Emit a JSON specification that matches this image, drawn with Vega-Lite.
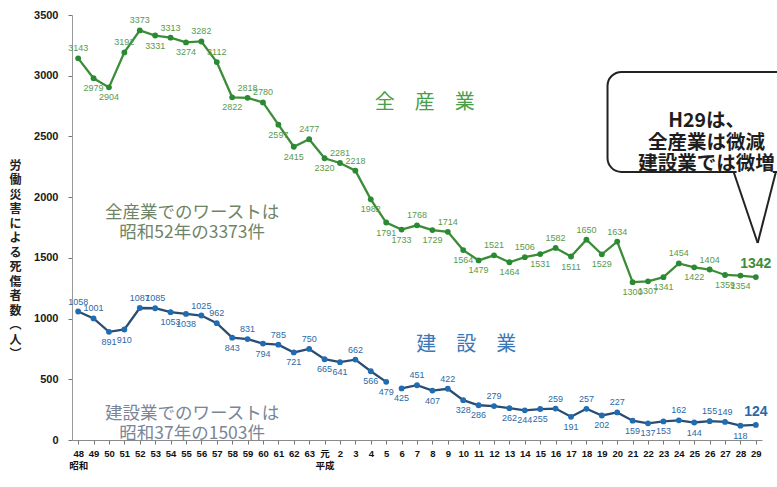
{
  "$schema": "https://vega.github.io/schema/vega-lite/v6.json",
  "width": 690,
  "height": 425,
  "autosize": {"type": "none"},
  "padding": {"left": 72, "top": 15, "right": 15, "bottom": 47},
  "background": "#ffffff",
  "config": {
    "view": {"stroke": null},
    "axisX": {"tickCount": 45, "tickMinStep": 1, "labelOverlap": false},
    "axisY": {"format": "d"}
  },
  "resolve": {"scale": {"color": "independent"}},
  "datasets": {
    "rows": [
      {"year": 1973, "industry": "全産業", "segment": "全", "deaths": 3143},
      {"year": 1974, "industry": "全産業", "segment": "全", "deaths": 2979},
      {"year": 1975, "industry": "全産業", "segment": "全", "deaths": 2904},
      {"year": 1976, "industry": "全産業", "segment": "全", "deaths": 3192},
      {"year": 1977, "industry": "全産業", "segment": "全", "deaths": 3373},
      {"year": 1978, "industry": "全産業", "segment": "全", "deaths": 3331},
      {"year": 1979, "industry": "全産業", "segment": "全", "deaths": 3313},
      {"year": 1980, "industry": "全産業", "segment": "全", "deaths": 3274},
      {"year": 1981, "industry": "全産業", "segment": "全", "deaths": 3282},
      {"year": 1982, "industry": "全産業", "segment": "全", "deaths": 3112},
      {"year": 1983, "industry": "全産業", "segment": "全", "deaths": 2822},
      {"year": 1984, "industry": "全産業", "segment": "全", "deaths": 2818},
      {"year": 1985, "industry": "全産業", "segment": "全", "deaths": 2780},
      {"year": 1986, "industry": "全産業", "segment": "全", "deaths": 2597},
      {"year": 1987, "industry": "全産業", "segment": "全", "deaths": 2415},
      {"year": 1988, "industry": "全産業", "segment": "全", "deaths": 2477},
      {"year": 1989, "industry": "全産業", "segment": "全", "deaths": 2320},
      {"year": 1990, "industry": "全産業", "segment": "全", "deaths": 2281},
      {"year": 1991, "industry": "全産業", "segment": "全", "deaths": 2218},
      {"year": 1992, "industry": "全産業", "segment": "全", "deaths": 1982},
      {"year": 1993, "industry": "全産業", "segment": "全", "deaths": 1791},
      {"year": 1994, "industry": "全産業", "segment": "全", "deaths": 1733},
      {"year": 1995, "industry": "全産業", "segment": "全", "deaths": 1768},
      {"year": 1996, "industry": "全産業", "segment": "全", "deaths": 1729},
      {"year": 1997, "industry": "全産業", "segment": "全", "deaths": 1714},
      {"year": 1998, "industry": "全産業", "segment": "全", "deaths": 1564},
      {"year": 1999, "industry": "全産業", "segment": "全", "deaths": 1479},
      {"year": 2000, "industry": "全産業", "segment": "全", "deaths": 1521},
      {"year": 2001, "industry": "全産業", "segment": "全", "deaths": 1464},
      {"year": 2002, "industry": "全産業", "segment": "全", "deaths": 1506},
      {"year": 2003, "industry": "全産業", "segment": "全", "deaths": 1531},
      {"year": 2004, "industry": "全産業", "segment": "全", "deaths": 1582},
      {"year": 2005, "industry": "全産業", "segment": "全", "deaths": 1511},
      {"year": 2006, "industry": "全産業", "segment": "全", "deaths": 1650},
      {"year": 2007, "industry": "全産業", "segment": "全", "deaths": 1529},
      {"year": 2008, "industry": "全産業", "segment": "全", "deaths": 1634},
      {"year": 2009, "industry": "全産業", "segment": "全", "deaths": 1300},
      {"year": 2010, "industry": "全産業", "segment": "全", "deaths": 1307},
      {"year": 2011, "industry": "全産業", "segment": "全", "deaths": 1341},
      {"year": 2012, "industry": "全産業", "segment": "全", "deaths": 1454},
      {"year": 2013, "industry": "全産業", "segment": "全", "deaths": 1422},
      {"year": 2014, "industry": "全産業", "segment": "全", "deaths": 1404},
      {"year": 2015, "industry": "全産業", "segment": "全", "deaths": 1359},
      {"year": 2016, "industry": "全産業", "segment": "全", "deaths": 1354},
      {"year": 2017, "industry": "全産業", "segment": "全", "deaths": 1342},
      {"year": 1973, "industry": "建設業", "segment": "建S", "deaths": 1058},
      {"year": 1974, "industry": "建設業", "segment": "建S", "deaths": 1001},
      {"year": 1975, "industry": "建設業", "segment": "建S", "deaths": 891},
      {"year": 1976, "industry": "建設業", "segment": "建S", "deaths": 910},
      {"year": 1977, "industry": "建設業", "segment": "建S", "deaths": 1087},
      {"year": 1978, "industry": "建設業", "segment": "建S", "deaths": 1085},
      {"year": 1979, "industry": "建設業", "segment": "建S", "deaths": 1053},
      {"year": 1980, "industry": "建設業", "segment": "建S", "deaths": 1038},
      {"year": 1981, "industry": "建設業", "segment": "建S", "deaths": 1025},
      {"year": 1982, "industry": "建設業", "segment": "建S", "deaths": 962},
      {"year": 1983, "industry": "建設業", "segment": "建S", "deaths": 843},
      {"year": 1984, "industry": "建設業", "segment": "建S", "deaths": 831},
      {"year": 1985, "industry": "建設業", "segment": "建S", "deaths": 794},
      {"year": 1986, "industry": "建設業", "segment": "建S", "deaths": 785},
      {"year": 1987, "industry": "建設業", "segment": "建S", "deaths": 721},
      {"year": 1988, "industry": "建設業", "segment": "建S", "deaths": 750},
      {"year": 1989, "industry": "建設業", "segment": "建S", "deaths": 665},
      {"year": 1990, "industry": "建設業", "segment": "建S", "deaths": 641},
      {"year": 1991, "industry": "建設業", "segment": "建S", "deaths": 662},
      {"year": 1992, "industry": "建設業", "segment": "建S", "deaths": 566},
      {"year": 1993, "industry": "建設業", "segment": "建S", "deaths": 479},
      {"year": 1994, "industry": "建設業", "segment": "建H", "deaths": 425},
      {"year": 1995, "industry": "建設業", "segment": "建H", "deaths": 451},
      {"year": 1996, "industry": "建設業", "segment": "建H", "deaths": 407},
      {"year": 1997, "industry": "建設業", "segment": "建H", "deaths": 422},
      {"year": 1998, "industry": "建設業", "segment": "建H", "deaths": 328},
      {"year": 1999, "industry": "建設業", "segment": "建H", "deaths": 286},
      {"year": 2000, "industry": "建設業", "segment": "建H", "deaths": 279},
      {"year": 2001, "industry": "建設業", "segment": "建H", "deaths": 262},
      {"year": 2002, "industry": "建設業", "segment": "建H", "deaths": 244},
      {"year": 2003, "industry": "建設業", "segment": "建H", "deaths": 255},
      {"year": 2004, "industry": "建設業", "segment": "建H", "deaths": 259},
      {"year": 2005, "industry": "建設業", "segment": "建H", "deaths": 191},
      {"year": 2006, "industry": "建設業", "segment": "建H", "deaths": 257},
      {"year": 2007, "industry": "建設業", "segment": "建H", "deaths": 202},
      {"year": 2008, "industry": "建設業", "segment": "建H", "deaths": 227},
      {"year": 2009, "industry": "建設業", "segment": "建H", "deaths": 159},
      {"year": 2010, "industry": "建設業", "segment": "建H", "deaths": 137},
      {"year": 2011, "industry": "建設業", "segment": "建H", "deaths": 153},
      {"year": 2012, "industry": "建設業", "segment": "建H", "deaths": 162},
      {"year": 2013, "industry": "建設業", "segment": "建H", "deaths": 144},
      {"year": 2014, "industry": "建設業", "segment": "建H", "deaths": 155},
      {"year": 2015, "industry": "建設業", "segment": "建H", "deaths": 149},
      {"year": 2016, "industry": "建設業", "segment": "建H", "deaths": 118},
      {"year": 2017, "industry": "建設業", "segment": "建H", "deaths": 124}
    ]
  },
  "layer": [
    {
      "data": {"name": "rows"},
      "mark": {"type": "line", "strokeWidth": 2.3},
      "encoding": {
        "x": {
          "field": "year", "type": "quantitative",
          "scale": {"domain": [1972.6, 2017.4], "nice": false, "zero": false},
          "axis": {
            "title": null,
            "values": [1973,1974,1975,1976,1977,1978,1979,1980,1981,1982,1983,1984,1985,1986,1987,1988,1989,1990,1991,1992,1993,1994,1995,1996,1997,1998,1999,2000,2001,2002,2003,2004,2005,2006,2007,2008,2009,2010,2011,2012,2013,2014,2015,2016,2017],
            "tickCount": 45,
            "labelExpr": "datum.value == 1973 ? ['48', '昭和'] : datum.value == 1989 ? ['元', '平成'] : datum.value < 1989 ? '' + (datum.value - 1925) : '' + (datum.value - 1988)",
            "labelFont": "Liberation Sans, Noto Sans CJK JP",
            "labelFontWeight": "bold",
            "labelFontSize": 9.5,
            "labelColor": "#111111",
            "labelAngle": 0,
            "labelOverlap": false,
            "labelFlush": false,
            "labelBound": false,
            "labelPadding": 4,
            "labelLineHeight": 12,
            "labelBaseline": "top",
            "tickSize": 4,
            "tickColor": "#777777",
            "domainColor": "#8a8a8a",
            "grid": false
          }
        },
        "y": {
          "field": "deaths", "type": "quantitative",
          "scale": {"domain": [0, 3500], "nice": false},
          "axis": {
            "values": [0, 500, 1000, 1500, 2000, 2500, 3000, 3500],
            "format": "d",
            "title": ["労", "働", "災", "害", "に", "よ", "る", "死", "傷", "者", "数", "︵", "人", "︶"],
            "titleFont": "Noto Sans CJK JP",
            "titleFontSize": 12,
            "titleFontWeight": "bold",
            "titleColor": "#222222",
            "titleAngle": 0,
            "titleAlign": "center",
            "titleBaseline": "middle",
            "titleLineHeight": 14.5,
            "titleX": -57,
            "titleY": 150,
            "labelFont": "Liberation Sans",
            "labelFontWeight": "bold",
            "labelFontSize": 11,
            "labelColor": "#1a1a1a",
            "labelPadding": 10,
            "tickSize": 4,
            "tickColor": "#777777",
            "domainColor": "#999999",
            "grid": false
          }
        },
        "color": {
          "field": "industry", "type": "nominal",
          "scale": {"domain": ["全産業", "建設業"], "range": ["#3d8c38", "#2c4d72"]},
          "legend": null
        },
        "detail": {"field": "segment"}
      }
    },
    {
      "data": {"name": "rows"},
      "mark": {"type": "circle", "size": 34, "opacity": 1},
      "encoding": {
        "x": {"field": "year", "type": "quantitative"},
        "y": {"field": "deaths", "type": "quantitative"},
        "color": {
          "field": "industry", "type": "nominal",
          "scale": {"domain": ["全産業", "建設業"], "range": ["#2a8a34", "#1f6cb2"]},
          "legend": null
        }
      }
    },
    {
      "data": {"name": "rows"},
      "transform": [
        {"window": [{"op": "lag", "field": "deaths", "as": "prev"}, {"op": "lead", "field": "deaths", "as": "next"}], "groupby": ["industry"], "sort": [{"field": "year"}]},
        {"filter": "datum.year < 2017 && (datum.prev == null || datum.next == null || datum.deaths > (datum.prev + datum.next) / 2 + 4)"}
      ],
      "mark": {"type": "text", "baseline": "bottom", "dy": -5, "fontSize": 9, "font": "Liberation Sans"},
      "encoding": {
        "x": {"field": "year", "type": "quantitative"},
        "y": {"field": "deaths", "type": "quantitative"},
        "text": {"field": "deaths", "type": "quantitative"},
        "color": {
          "field": "industry", "type": "nominal",
          "scale": {"domain": ["全産業", "建設業"], "range": ["#5a9a4a", "#2d68a6"]},
          "legend": null
        }
      }
    },
    {
      "data": {"name": "rows"},
      "transform": [
        {"window": [{"op": "lag", "field": "deaths", "as": "prev"}, {"op": "lead", "field": "deaths", "as": "next"}], "groupby": ["industry"], "sort": [{"field": "year"}]},
        {"filter": "datum.year < 2017 && !(datum.prev == null || datum.next == null || datum.deaths > (datum.prev + datum.next) / 2 + 4)"}
      ],
      "mark": {"type": "text", "baseline": "top", "dy": 6, "fontSize": 9, "font": "Liberation Sans"},
      "encoding": {
        "x": {"field": "year", "type": "quantitative"},
        "y": {"field": "deaths", "type": "quantitative"},
        "text": {"field": "deaths", "type": "quantitative"},
        "color": {
          "field": "industry", "type": "nominal",
          "scale": {"domain": ["全産業", "建設業"], "range": ["#5a9a4a", "#2d68a6"]},
          "legend": null
        }
      }
    },
    {
      "data": {"name": "rows"},
      "transform": [{"filter": "datum.year == 2017"}],
      "mark": {"type": "text", "baseline": "bottom", "dy": -6, "fontSize": 14, "fontWeight": "bold", "font": "Liberation Sans"},
      "encoding": {
        "x": {"field": "year", "type": "quantitative"},
        "y": {"field": "deaths", "type": "quantitative"},
        "text": {"field": "deaths", "type": "quantitative"},
        "color": {
          "field": "industry", "type": "nominal",
          "scale": {"domain": ["全産業", "建設業"], "range": ["#3d8c38", "#2d68a6"]},
          "legend": null
        }
      }
    },
    {
      "data": {"values": [{}]},
      "mark": {"type": "text", "text": "全　産　業", "font": "Noto Sans CJK JP", "fontSize": 20, "color": "#47a047", "align": "center", "baseline": "middle"},
      "encoding": {"x": {"datum": 1995.5, "type": "quantitative"}, "y": {"datum": 2775, "type": "quantitative"}}
    },
    {
      "data": {"values": [{}]},
      "mark": {"type": "text", "text": "建　設　業", "font": "Noto Sans CJK JP", "fontSize": 20, "color": "#3a78b8", "align": "center", "baseline": "middle"},
      "encoding": {"x": {"datum": 1998.2, "type": "quantitative"}, "y": {"datum": 782, "type": "quantitative"}}
    },
    {
      "data": {"values": [{}]},
      "mark": {"type": "text", "text": ["全産業でのワーストは", "昭和52年の3373件"], "font": "Noto Sans CJK JP", "fontSize": 17.5, "lineHeight": 20, "color": "#6f8466", "align": "center", "baseline": "middle"},
      "encoding": {"x": {"datum": 1980.4, "type": "quantitative"}, "y": {"datum": 1873, "type": "quantitative"}}
    },
    {
      "data": {"values": [{}]},
      "mark": {"type": "text", "text": ["建設業でのワーストは", "昭和37年の1503件"], "font": "Noto Sans CJK JP", "fontSize": 17.5, "lineHeight": 20, "color": "#7a8696", "align": "center", "baseline": "middle"},
      "encoding": {"x": {"datum": 1980.4, "type": "quantitative"}, "y": {"datum": 214, "type": "quantitative"}}
    },
    {
      "data": {"values": [{}]},
      "mark": {"type": "rect", "fill": "#ffffff", "stroke": "#222222", "strokeWidth": 2, "cornerRadius": 14},
      "encoding": {
        "x": {"datum": 2007.37, "type": "quantitative"},
        "x2": {"datum": 2019.5},
        "y": {"datum": 3031, "type": "quantitative"},
        "y2": {"datum": 2207}
      }
    },
    {
      "data": {"values": [{}]},
      "mark": {"type": "rule", "stroke": "#ffffff", "strokeWidth": 4},
      "encoding": {
        "x": {"datum": 2015.75, "type": "quantitative"},
        "x2": {"datum": 2018.1},
        "y": {"datum": 2207, "type": "quantitative"}
      }
    },
    {
      "data": {"values": [{}]},
      "mark": {"type": "rule", "stroke": "#222222", "strokeWidth": 2},
      "encoding": {
        "x": {"datum": 2015.56, "type": "quantitative"},
        "x2": {"datum": 2017.12},
        "y": {"datum": 2207, "type": "quantitative"},
        "y2": {"datum": 1622}
      }
    },
    {
      "data": {"values": [{}]},
      "mark": {"type": "rule", "stroke": "#222222", "strokeWidth": 2},
      "encoding": {
        "x": {"datum": 2018.3, "type": "quantitative"},
        "x2": {"datum": 2017.12},
        "y": {"datum": 2207, "type": "quantitative"},
        "y2": {"datum": 1622}
      }
    },
    {
      "data": {"values": [{}]},
      "mark": {"type": "text", "text": ["H29は、", "全産業は微減", "建設業では微増"], "font": "Noto Sans CJK JP", "fontSize": 19.5, "fontWeight": "bold", "lineHeight": 21.5, "color": "#1e1e1e", "align": "center", "baseline": "middle"},
      "encoding": {"x": {"datum": 2013.8, "type": "quantitative"}, "y": {"datum": 2627, "type": "quantitative"}}
    }
  ]
}
